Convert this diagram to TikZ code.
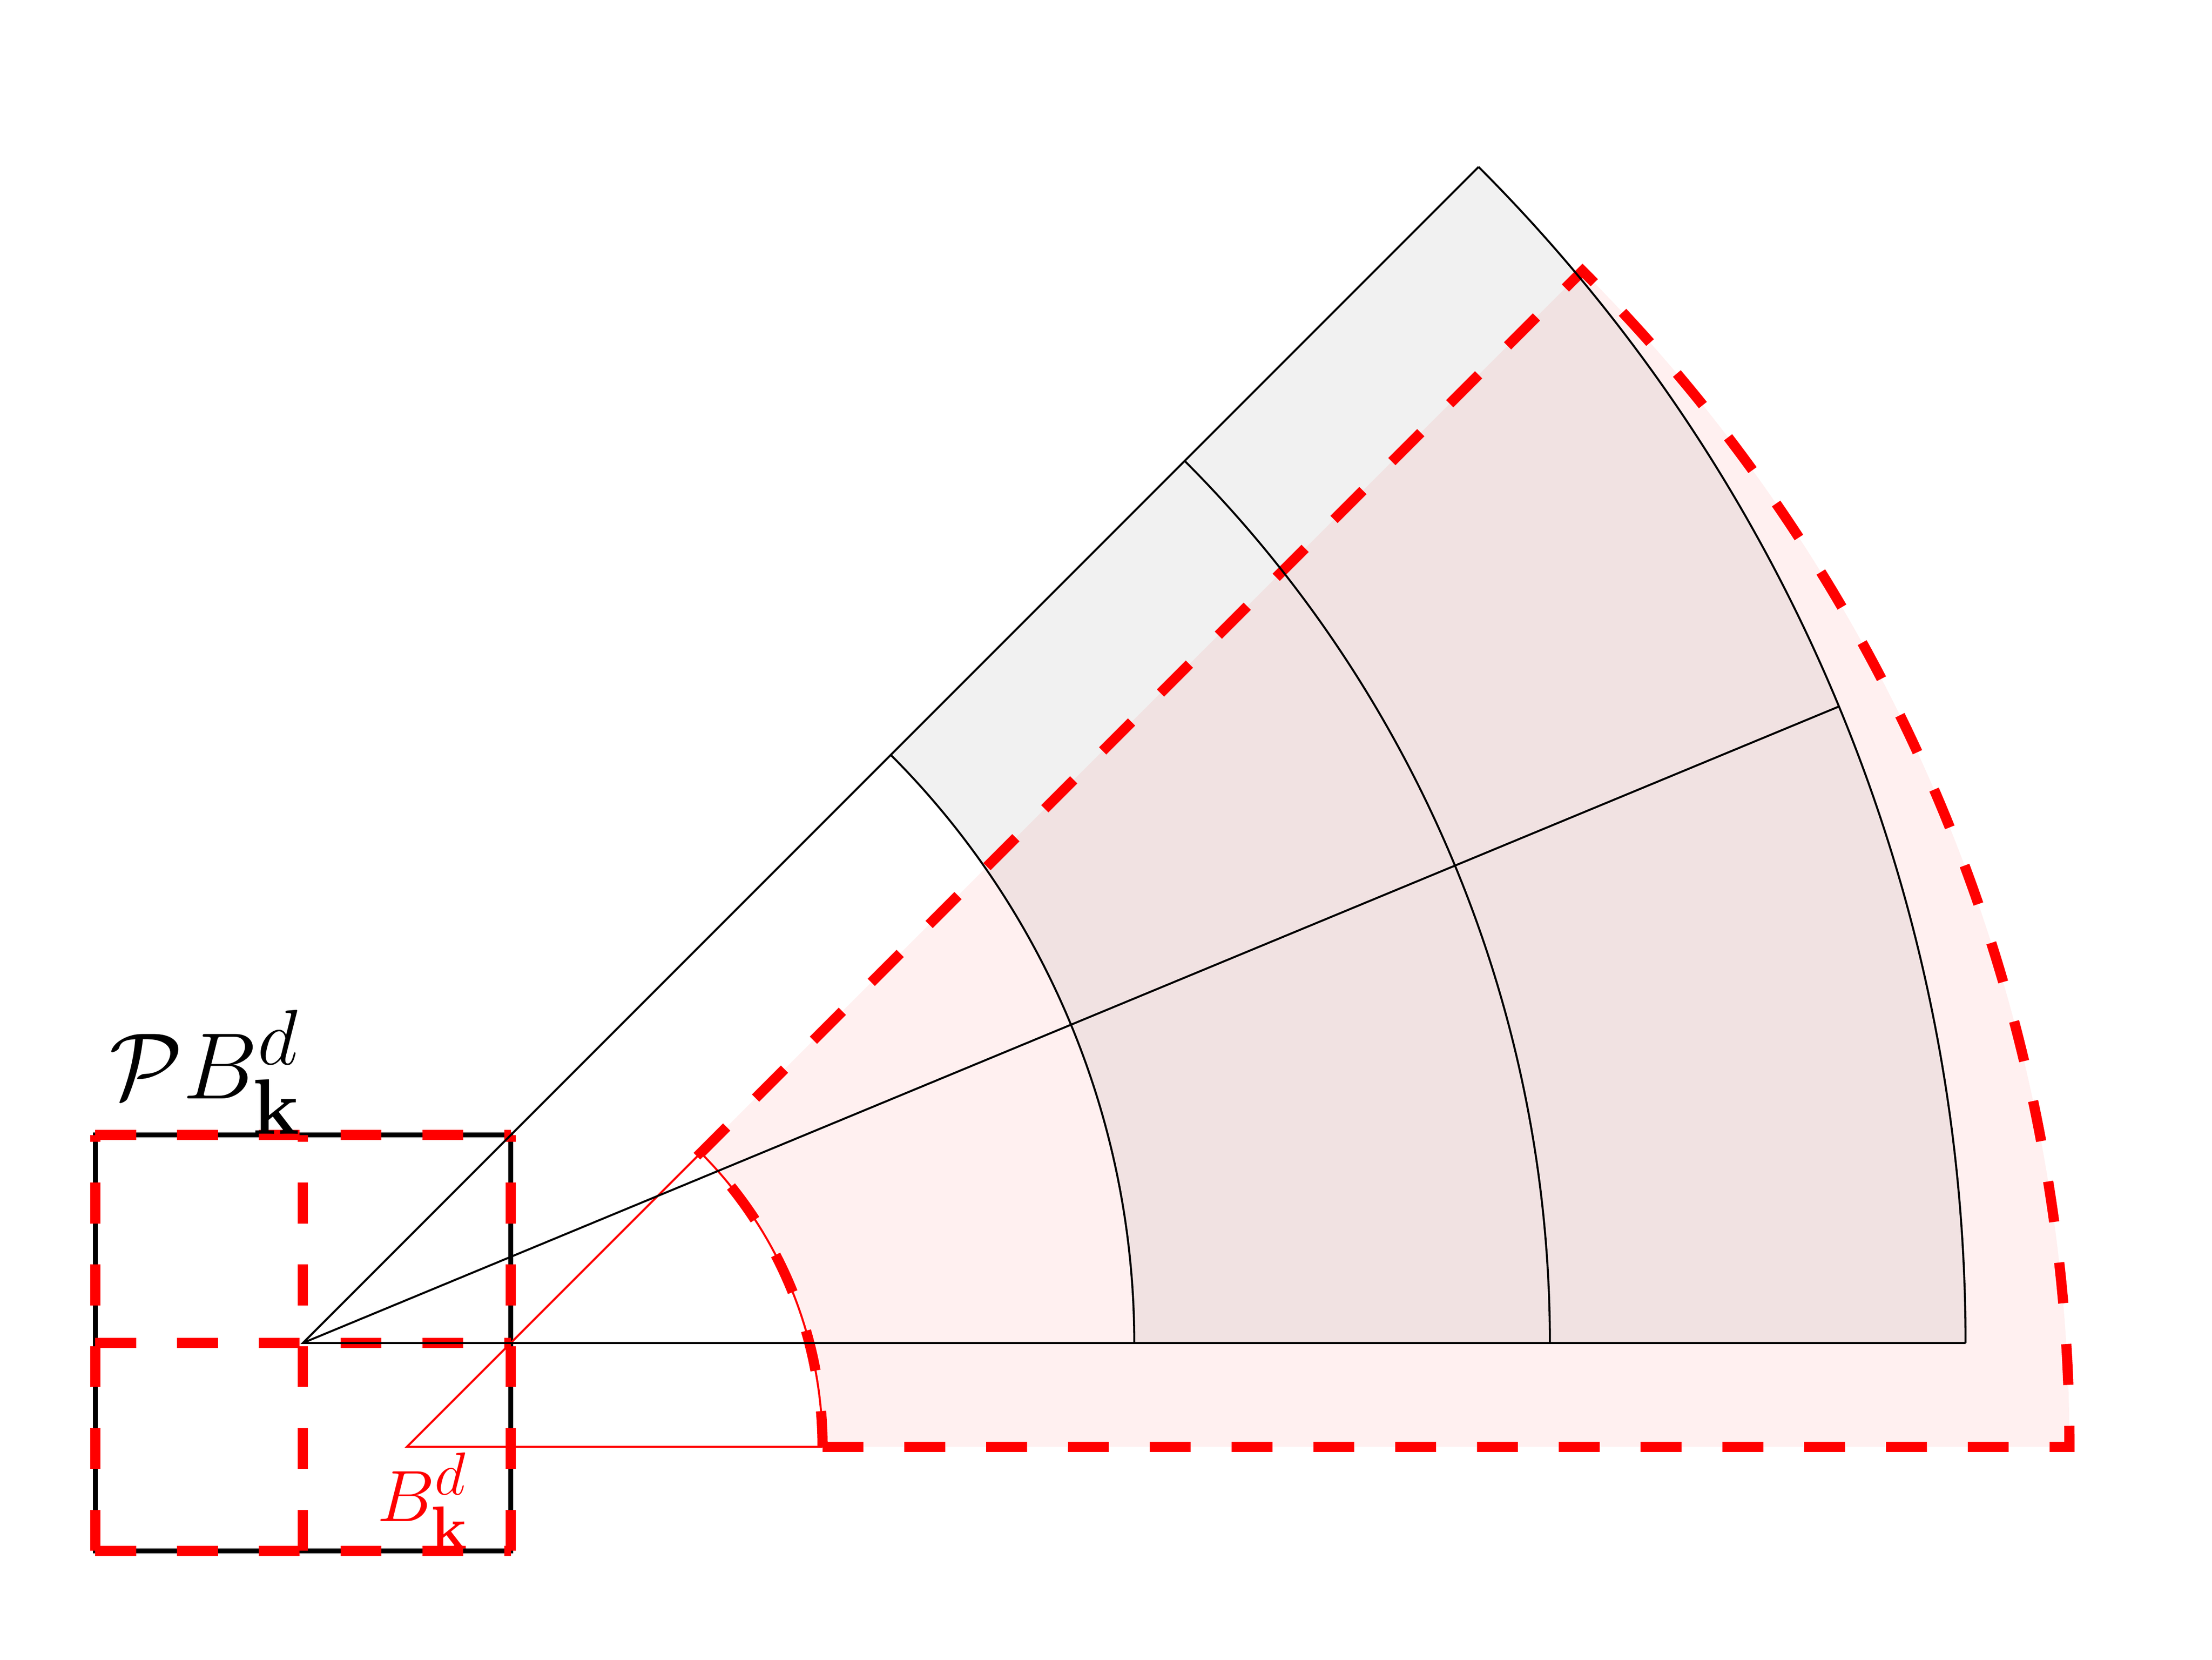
\documentclass[tikz,border=0pt]{standalone}
\usepackage{amsmath}
\begin{document}
\begin{tikzpicture}[x=4cm,y=4cm,line width=0.55pt,
    reddash/.style={red,line width=2.8pt,dash pattern=on 11.2pt off 11.2pt},
    boxline/.style={line width=1.3pt}]
  \useasboundingbox (-0.729,-0.762) rectangle (4.593,3.230);
  \fill[gray!11] (2,0)--(4,0) arc(0:45:4)--(45:2) arc(45:0:2)--cycle;
  \begin{scope}[shift={(0.25,-0.25)}]
    \fill[red,fill opacity=0.06] (1,0)--(4,0) arc(0:45:4)--(45:1) arc(45:0:1)--cycle;
  \end{scope}
  \draw[boxline] (-0.5,-0.5) rectangle (0.5,0.5);
  \draw[reddash,step=2cm] (-0.5,-0.5) grid (0.5,0.5);
  \begin{scope}[shift={(0.25,-0.25)}]
    \coordinate (Oc) at (0,0);
    \draw[red] (45:1)--(Oc)--(1,0);
    \draw[red] (1,0) arc(0:45:1);
    \draw[reddash] (1,0)--(4,0) arc(0:45:4)--(45:1) arc(45:0:1)--cycle;
  \end{scope}
  \coordinate (O) at (0,0);
  \draw (45:4)--(O)--(4,0);
  \draw (O)--(22.5:4);
  \foreach \r in {2,3,4}
    {\draw (\r,0) arc(0:45:\r);}
  \node[font=\Huge,scale=1.037,anchor=base] (PB) at (-0.2345,0.5876) {$\mathcal{P}B^d_{\mathbf{k}}$};
  \node[font=\Huge,scale=0.80,anchor=base,red] (Bk) at (0.288,-0.429) {$B^d_{\mathbf{k}}$};
\end{tikzpicture}
\end{document}
